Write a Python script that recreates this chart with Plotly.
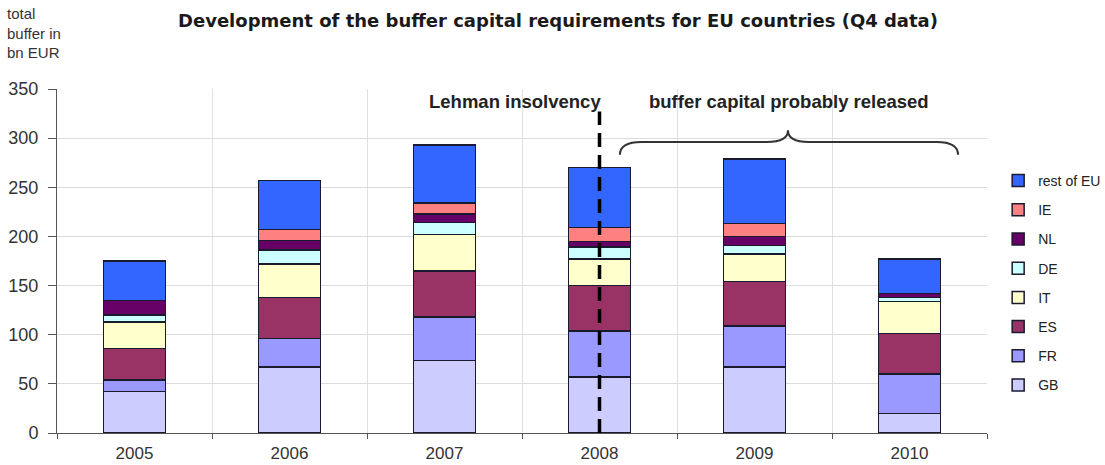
import plotly.graph_objects as go

years = ["2005", "2006", "2007", "2008", "2009", "2010"]
series_names = ["GB", "FR", "ES", "IT", "DE", "NL", "IE", "rest of EU"]
GB = [42, 67, 74, 57, 67, 20]
FR = [12, 29, 44, 47, 42, 40]
ES = [32, 42, 47, 46, 45, 41]
IT = [27, 34, 37, 27, 28, 33]
DE = [7, 14, 12, 12, 9, 4]
NL = [15, 10, 9, 6, 9, 4]
IE = [0, 11, 11, 14, 13, 0]
REST = [40, 50, 59, 61, 66, 35]
values = [GB, FR, ES, IT, DE, NL, IE, REST]
colors = ["#CCCCFF", "#9999FF", "#993366", "#FFFFCC", "#CCFFFF", "#660066", "#FF8080", "#3366FF"]

y_ticks = [0, 50, 100, 150, 200, 250, 300, 350]

FONT = "Liberation Sans, Arial, sans-serif"

fig = go.Figure()
for i, (name, vals, col) in enumerate(zip(series_names, values, colors)):
    fig.add_trace(go.Bar(
        x=years, y=vals, name=name, legendgroup=name,
        legendrank=len(series_names) - i,
        marker=dict(color=col, line=dict(color="#1a1a2e", width=1.5)),
    ))

fig.update_layout(
    width=1105, height=465,
    barmode="stack", bargap=0.6,
    paper_bgcolor="white", plot_bgcolor="white",
    margin=dict(l=57, r=118, t=89, b=32, autoexpand=False),
    font=dict(family=FONT, size=16, color="#333333"),
    title=dict(text="<b>Development of the buffer capital requirements for EU countries (Q4 data)</b>",
               x=0.505, xanchor="center", y=0.955, yanchor="middle",
               font=dict(family="DejaVu Sans, sans-serif", size=18, color="#1a1a1a")),
    legend=dict(x=1.012, xanchor="left", y=0.779, yanchor="top",
                traceorder="grouped", tracegroupgap=8,
                font=dict(family=FONT, size=14, color="#222222"),
                itemwidth=30, bgcolor="rgba(0,0,0,0)"),
    showlegend=True,
)
fig.update_xaxes(
    type="category", tickson="boundaries", ticks="outside", ticklen=5,
    tickcolor="#555555", showline=True, linecolor="#555555", linewidth=1,
    showgrid=True, gridcolor="#e0e0e0", gridwidth=1, automargin=False,
    ticklabelstandoff=5,
    tickfont=dict(family=FONT, size=17, color="#333333"),
)
fig.update_yaxes(
    range=[0, 350], tickvals=y_ticks, ticks="outside", ticklen=8,
    tickcolor="#555555", showline=True, linecolor="#555555", linewidth=1,
    showgrid=True, gridcolor="#dcdcdc", gridwidth=1, zeroline=False, automargin=False,
    ticklabelstandoff=6,
    tickfont=dict(family=FONT, size=18, color="#333333"),
)

# y axis title block
fig.add_annotation(text="total<br>buffer in<br>bn EUR", xref="paper", yref="paper",
                   x=-0.056, y=1.25, xanchor="left", yanchor="top", align="left",
                   showarrow=False, font=dict(family=FONT, size=15, color="#333333"))

# Lehman line
fig.add_shape(type="line", xref="x", yref="y", x0=3, x1=3, y0=0, y1=327,
              line=dict(color="black", width=3.5, dash="14px,8px"))
fig.add_annotation(text="<b>Lehman insolvency</b>", xref="x", yref="y", x=2.455, y=337,
                   showarrow=False, font=dict(family=FONT, size=18.5, color="#222222"))
fig.add_annotation(text="<b>buffer capital probably released</b>", xref="x", yref="y", x=4.225, y=337,
                   showarrow=False, font=dict(family=FONT, size=18.5, color="#222222"))

# brace
brace = ("M 3.132,283 Q 3.132,296 3.27,296 L 4.08,296 Q 4.216,296 4.216,308 "
         "Q 4.216,296 4.35,296 L 5.175,296 Q 5.313,296 5.313,283")
fig.add_shape(type="path", xref="x", yref="y", path=brace,
              line=dict(color="#333333", width=2))

fig.write_html("out.html")
